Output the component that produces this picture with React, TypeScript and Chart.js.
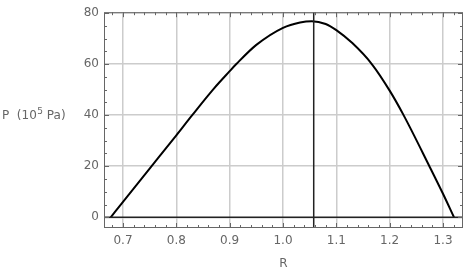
import React, { useEffect, useRef } from "react";
import { Chart, registerables } from "chart.js";

Chart.register(...registerables);

// Curve data (R, P in 10^5 Pa)
const rValues = [0.6769, 0.7, 0.7537, 0.8, 0.8298, 0.87, 0.9, 0.9125, 0.95, 1.0, 1.032, 1.054, 1.08, 1.1, 1.13, 1.1665, 1.2, 1.2261, 1.2745, 1.3, 1.3206];
const pValues = [0, 6.0, 20, 32.1, 40, 50.3, 57.2, 60, 67.5, 74.2, 76.3, 76.8, 75.7, 73.3, 68.2, 60, 49.6, 40, 20, 9.2, 0];

const markerR = 1.0576;
const xTicks = [0.7, 0.8, 0.9, 1.0, 1.1, 1.2, 1.3];
const xTickLabels = ["0.7", "0.8", "0.9", "1.0", "1.1", "1.2", "1.3"];
const yTicks = [0, 20, 40, 60, 80];
const yTickLabels = ["0", "20", "40", "60", "80"];
const xMin = 0.6644;
const xMax = 1.3375;
const yMin = -4.2;
const yMax = 80.3;
const xMinorStep = 0.02;
const yMinorStep = 5;

const FONT = "'DejaVu Sans', sans-serif";

const framePlugin = {
  id: "frame",
  afterDatasetsDraw(chart: any) {
    const { ctx, chartArea: a, scales } = chart;
    const xs = scales.x;
    const ys = scales.y;
    ctx.save();
    ctx.strokeStyle = "#666666";
    ctx.lineWidth = 1;
    ctx.strokeRect(a.left + 0.5, a.top + 0.5, a.right - a.left - 1, a.bottom - a.top - 1);
    const n0 = Math.ceil(xMin / xMinorStep - 1e-6);
    const n1 = Math.floor(xMax / xMinorStep + 1e-6);
    for (let n = n0; n <= n1; n++) {
      const v = n * xMinorStep;
      const major = Math.abs(v * 10 - Math.round(v * 10)) < 1e-6;
      const len = major ? 5 : 3;
      const px = Math.round(xs.getPixelForValue(v)) + 0.5;
      ctx.beginPath();
      ctx.moveTo(px, a.bottom);
      ctx.lineTo(px, a.bottom - len);
      ctx.moveTo(px, a.top);
      ctx.lineTo(px, a.top + len);
      ctx.stroke();
    }
    const m0 = Math.ceil(yMin / yMinorStep);
    const m1 = Math.floor(yMax / yMinorStep);
    for (let m = m0; m <= m1; m++) {
      const v = m * yMinorStep;
      const major = v % 20 === 0;
      const len = major ? 5 : 3;
      const py = Math.round(ys.getPixelForValue(v)) + 0.5;
      ctx.beginPath();
      ctx.moveTo(a.left, py);
      ctx.lineTo(a.left + len, py);
      ctx.moveTo(a.right, py);
      ctx.lineTo(a.right - len, py);
      ctx.stroke();
    }
    ctx.fillStyle = "#666666";
    ctx.textBaseline = "alphabetic";
    ctx.textAlign = "center";
    ctx.font = "12px " + FONT;
    ctx.fillText("R", (a.left + a.right) / 2, 267);
    ctx.textAlign = "left";
    let x = 2;
    const base = 119;
    const part1 = "P  (10";
    ctx.font = "12px " + FONT;
    ctx.fillText(part1, x, base);
    x += ctx.measureText(part1).width;
    ctx.font = "9px " + FONT;
    ctx.fillText("5", x + 0.5, base - 5);
    x += ctx.measureText("5").width + 0.5;
    ctx.font = "12px " + FONT;
    ctx.fillText(" Pa)", x, base);
    ctx.restore();
  },
};

export default function App() {
  const ref = useRef<HTMLCanvasElement>(null);
  useEffect(() => {
    if (!ref.current) return;
    const curve = rValues.map((r, i) => ({ x: r, y: pValues[i] }));
    const chart = new Chart(ref.current, {
      type: "scatter",
      data: {
        datasets: [
          {
            data: [{ x: xMin, y: 0 }, { x: xMax, y: 0 }],
            showLine: true,
            borderColor: "#222222",
            borderWidth: 1.5,
            pointRadius: 0,
          },
          {
            data: [{ x: markerR, y: yMin }, { x: markerR, y: yMax }],
            showLine: true,
            borderColor: "#222222",
            borderWidth: 1.5,
            pointRadius: 0,
          },
          {
            data: curve,
            showLine: true,
            borderColor: "#000000",
            borderWidth: 2,
            pointRadius: 0,
            cubicInterpolationMode: "monotone",
          },
        ],
      },
      options: {
        animation: false,
        responsive: false,
        maintainAspectRatio: false,
        layout: { padding: { left: 0, right: 5, top: 8, bottom: 0 } },
        plugins: { legend: { display: false }, tooltip: { enabled: false } },
        scales: {
          x: {
            type: "linear",
            min: xMin,
            max: xMax,
            afterBuildTicks: (s: any) => {
              s.ticks = xTicks.map((v) => ({ value: v }));
            },
            afterFit: (s: any) => {
              s.height = 46;
            },
            ticks: {
              callback: (v: any) => {
                const i = xTicks.findIndex((t) => Math.abs(t - v) < 1e-9);
                return i >= 0 ? xTickLabels[i] : "";
              },
              color: "#666666",
              font: { family: FONT, size: 12 },
              padding: 6,
              maxRotation: 0,
              autoSkip: false,
            },
            grid: { color: "#cccccc", lineWidth: 1.5, drawTicks: false },
            border: { display: false },
          },
          y: {
            type: "linear",
            min: yMin,
            max: yMax,
            afterBuildTicks: (s: any) => {
              s.ticks = yTicks.map((v) => ({ value: v }));
            },
            afterFit: (s: any) => {
              s.width = 104;
            },
            ticks: {
              callback: (v: any) => {
                const i = yTicks.findIndex((t) => Math.abs(t - v) < 1e-9);
                return i >= 0 ? yTickLabels[i] : "";
              },
              color: "#666666",
              font: { family: FONT, size: 12 },
              padding: 5,
              autoSkip: false,
            },
            grid: { color: "#cccccc", lineWidth: 1.5, drawTicks: false },
            border: { display: false },
          },
        },
      },
      plugins: [framePlugin],
    });
    return () => chart.destroy();
  }, []);
  return (
    <div style={{ position: "absolute", left: 0, top: 0, width: 468, height: 274, background: "#fff" }}>
      <canvas ref={ref} width={468} height={274} />
    </div>
  );
}
